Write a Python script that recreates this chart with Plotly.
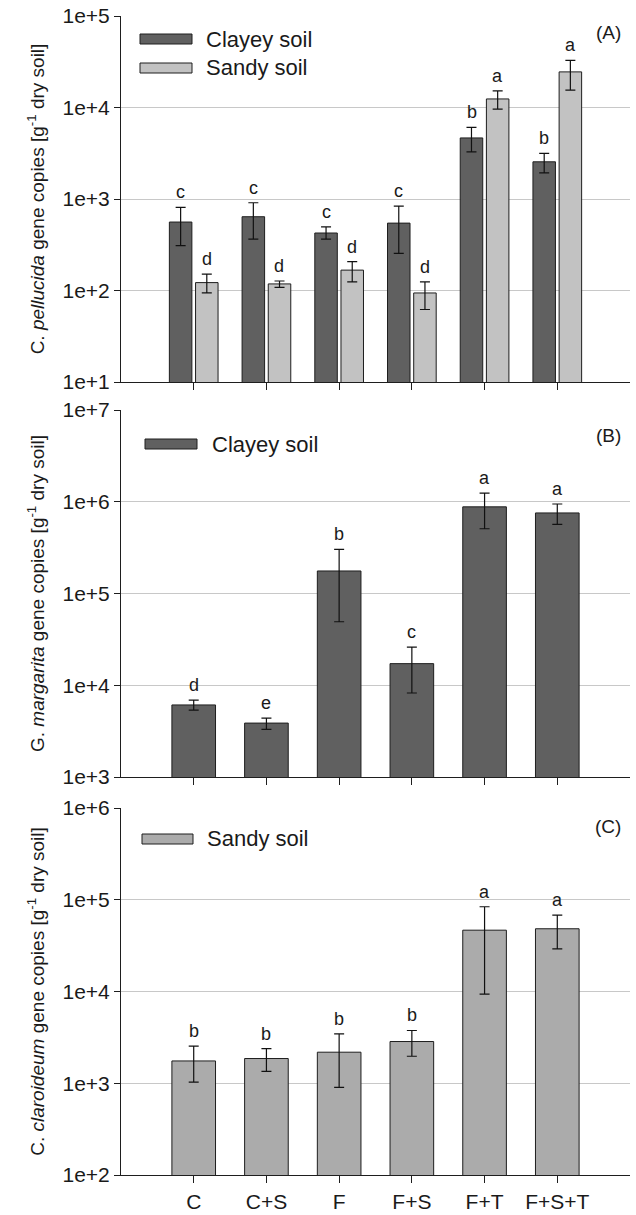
import plotly.graph_objects as go
import numpy as np

# ---------------- data ----------------
treatments = ["C", "C+S", "F", "F+S", "F+T", "F+S+T"]

A_clayey = [560, 640, 425, 545, 4650, 2550]
A_clayey_hi = [810, 910, 495, 835, 6050, 3150]
A_clayey_lo = [310, 365, 365, 255, 3280, 1930]
A_clayey_letters = ["c", "c", "c", "c", "b", "b"]

A_sandy = [122, 118, 167, 94, 12400, 24500]
A_sandy_hi = [151, 127, 207, 124, 15200, 32700]
A_sandy_lo = [94, 108, 124, 62, 9600, 15500]
A_sandy_letters = ["d", "d", "d", "d", "a", "a"]

B_clayey = [6100, 3870, 176000, 17200, 880000, 755000]
B_clayey_hi = [6900, 4390, 302000, 26000, 1240000, 945000]
B_clayey_lo = [5360, 3300, 49200, 8230, 508000, 566000]
B_letters = ["d", "e", "b", "c", "a", "a"]

C_sandy = [1750, 1860, 2180, 2850, 46600, 48300]
C_sandy_hi = [2540, 2390, 3450, 3760, 83900, 68000]
C_sandy_lo = [1030, 1350, 900, 1970, 9350, 29200]
C_letters = ["b", "b", "b", "b", "a", "a"]

A_ticks = [1e1, 1e2, 1e3, 1e4, 1e5]
A_ticktext = ["1e+1", "1e+2", "1e+3", "1e+4", "1e+5"]
B_ticks = [1e3, 1e4, 1e5, 1e6, 1e7]
B_ticktext = ["1e+3", "1e+4", "1e+5", "1e+6", "1e+7"]
C_ticks = [1e2, 1e3, 1e4, 1e5, 1e6]
C_ticktext = ["1e+2", "1e+3", "1e+4", "1e+5", "1e+6"]

# ---------------- style ----------------
W, H = 636, 1215
ML, MR, MT, MB = 121, 6, 16, 40
PW = W - ML - MR
PH = H - MT - MB
FONT = "Liberation Sans, Arial, sans-serif"
DARK = "#606060"
LIGHT = "#c2c2c2"
MID = "#ababab"
EDGE = "#1e1e1e"
TXT = "#1a1a1a"
GRID = "#c8c8c8"


def px_x(px):
    return (px - ML) / PW


def px_y(py):
    return (H - MB - py) / PH


def err(vals, hi, lo):
    v = np.array(vals, float)
    return dict(type="data", symmetric=False,
                array=list(np.array(hi) - v), arrayminus=list(v - np.array(lo)),
                color="#111111", thickness=1.2, width=5)


fig = go.Figure()

# Panel A
fig.add_trace(go.Bar(x=treatments, y=A_clayey, name="Clayey soil",
                     marker=dict(color=DARK, line=dict(color=EDGE, width=1)),
                     error_y=err(A_clayey, A_clayey_hi, A_clayey_lo),
                     xaxis="x", yaxis="y", offsetgroup="1", showlegend=False))
fig.add_trace(go.Bar(x=treatments, y=A_sandy, name="Sandy soil",
                     marker=dict(color=LIGHT, line=dict(color=EDGE, width=1)),
                     error_y=err(A_sandy, A_sandy_hi, A_sandy_lo),
                     xaxis="x", yaxis="y", offsetgroup="2", showlegend=False))
# Panel B
fig.add_trace(go.Bar(x=treatments, y=B_clayey, name="Clayey soil",
                     marker=dict(color=DARK, line=dict(color=EDGE, width=1)),
                     error_y=err(B_clayey, B_clayey_hi, B_clayey_lo),
                     width=0.6, xaxis="x2", yaxis="y2", showlegend=False))
# Panel C
fig.add_trace(go.Bar(x=treatments, y=C_sandy, name="Sandy soil",
                     marker=dict(color=MID, line=dict(color=EDGE, width=1)),
                     error_y=err(C_sandy, C_sandy_hi, C_sandy_lo),
                     width=0.6, xaxis="x3", yaxis="y3", showlegend=False))

# domains (px -> paper)
domA = [px_y(382), px_y(16)]
domB = [px_y(777), px_y(410)]
domC = [px_y(1175), px_y(808)]

xcommon = dict(type="category", range=[-1, 6], showline=True, linecolor=EDGE, linewidth=1,
               ticks="outside", ticklen=7, tickcolor=EDGE, showgrid=False, zeroline=False,
               domain=[0, 1], automargin=False,
               tickfont=dict(family=FONT, size=21, color=TXT))
ycommon = dict(type="log", showline=True, linecolor=EDGE, linewidth=1, ticks="outside",
               ticklen=6, tickcolor=EDGE, showgrid=True, gridcolor=GRID, gridwidth=1,
               zeroline=False, automargin=False,
               tickfont=dict(family=FONT, size=21, color=TXT))
title_font = dict(family=FONT, size=19, color=TXT)

fig.update_layout(
    width=W, height=H, margin=dict(l=ML, r=MR, t=MT, b=MB),
    plot_bgcolor="white", paper_bgcolor="white",
    barmode="group", bargap=0.28, bargroupgap=0.14,
    xaxis=dict(xcommon, anchor="y", showticklabels=False),
    xaxis2=dict(xcommon, anchor="y2", showticklabels=False),
    xaxis3=dict(xcommon, anchor="y3", showticklabels=True, ticklabelstandoff=1),
    yaxis=dict(ycommon, domain=domA, anchor="x", range=[1, 5],
               tickvals=A_ticks, ticktext=A_ticktext,
               title=dict(text="C. <i>pellucida</i> gene copies [g<sup>-1</sup> dry soil]",
                          font=title_font, standoff=12)),
    yaxis2=dict(ycommon, domain=domB, anchor="x2", range=[3, 7],
                tickvals=B_ticks, ticktext=B_ticktext,
                title=dict(text="G. <i>margarita</i> gene copies [g<sup>-1</sup> dry soil]",
                           font=title_font, standoff=12)),
    yaxis3=dict(ycommon, domain=domC, anchor="x3", range=[2, 6],
                tickvals=C_ticks, ticktext=C_ticktext,
                title=dict(text="C. <i>claroideum</i> gene copies [g<sup>-1</sup> dry soil]",
                           font=title_font, standoff=12)),
)

annots = []
shapes = []

# significance letters
def add_letters(xref, yref, hi, letters, xshift):
    for t, h, l in zip(treatments, hi, letters):
        annots.append(dict(x=t, y=np.log10(h), xref=xref, yref=yref, text=l,
                           showarrow=False, yanchor="bottom", yshift=3, xshift=xshift,
                           font=dict(family=FONT, size=18, color=TXT)))

add_letters("x", "y", A_clayey_hi, A_clayey_letters, -13)
add_letters("x", "y", A_sandy_hi, A_sandy_letters, 13)
add_letters("x2", "y2", B_clayey_hi, B_letters, 0)
add_letters("x3", "y3", C_sandy_hi, C_letters, 0)

# panel labels
for lab, py in [("(A)", 33), ("(B)", 435), ("(C)", 826)]:
    annots.append(dict(x=px_x(608), y=px_y(py), xref="paper", yref="paper", text=lab,
                       showarrow=False, xanchor="center", yanchor="middle",
                       font=dict(family=FONT, size=19, color=TXT)))

# legends (drawn manually)
legend_items = [
    ("Clayey soil", DARK, 140, 192, 39, 204),
    ("Sandy soil", LIGHT, 140, 192, 68, 204),
    ("Clayey soil", DARK, 145, 197, 444, 210),
    ("Sandy soil", MID, 142, 193, 839, 205),
]
for name, col, x0, x1, yc, tx in legend_items:
    shapes.append(dict(type="rect", xref="paper", yref="paper",
                       x0=px_x(x0), x1=px_x(x1), y0=px_y(yc + 5), y1=px_y(yc - 5),
                       fillcolor=col, line=dict(color=EDGE, width=1)))
    annots.append(dict(x=px_x(tx), y=px_y(yc), xref="paper", yref="paper", text=name,
                       showarrow=False, xanchor="left", yanchor="middle",
                       font=dict(family=FONT, size=22, color=TXT)))

fig.update_layout(annotations=annots, shapes=shapes)
fig.write_html("out.html")
